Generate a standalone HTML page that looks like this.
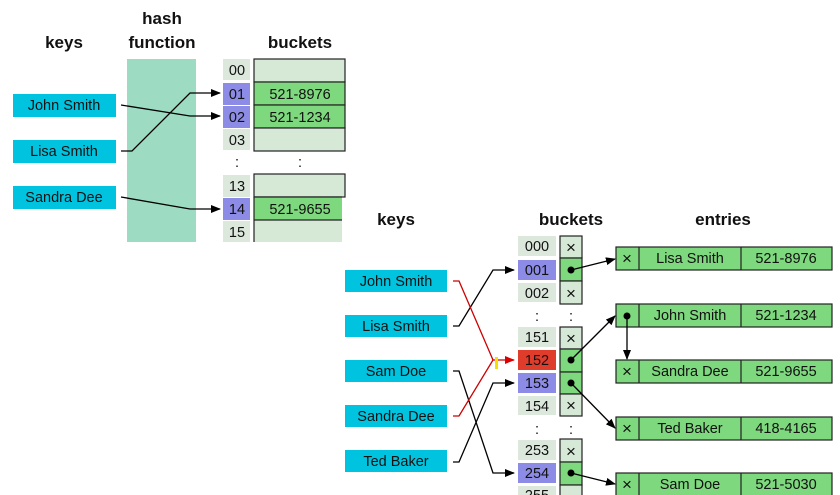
<!DOCTYPE html><html><head><meta charset="utf-8"><style>body{margin:0;background:#fff}svg{display:block}text{font-family:"Liberation Sans","DejaVu Sans",sans-serif}</style></head><body>
<svg width="840" height="495" viewBox="0 0 840 495" xmlns="http://www.w3.org/2000/svg">
<defs><marker id="a" markerWidth="10" markerHeight="8" refX="9" refY="4" orient="auto" markerUnits="userSpaceOnUse"><path d="M0,0L10,4L0,8z" fill="#000"/></marker>
<marker id="r" markerWidth="10" markerHeight="8" refX="9" refY="4" orient="auto" markerUnits="userSpaceOnUse"><path d="M0,0L10,4L0,8z" fill="#d00"/></marker></defs>
<g font-weight="bold" font-size="17" text-anchor="middle" fill="#111">
<text x="64" y="48">keys</text><text x="162" y="24">hash</text><text x="162" y="48">function</text><text x="300" y="48">buckets</text>
<text x="396" y="225">keys</text><text x="571" y="225">buckets</text><text x="723" y="225">entries</text></g>
<rect x="127" y="59" width="69" height="183" fill="#9ddcc2"/>
<g fill="#00c4df"><rect x="13" y="94" width="103" height="23"/><rect x="13" y="140" width="103" height="23"/><rect x="13" y="186" width="103" height="23"/>
<rect x="345" y="270" width="102" height="22"/><rect x="345" y="315" width="102" height="22"/><rect x="345" y="360" width="102" height="22"/><rect x="345" y="405" width="102" height="22"/><rect x="345" y="450" width="102" height="22"/></g>
<g font-size="14.5" text-anchor="middle" fill="#111">
<text x="64" y="110">John Smith</text><text x="64" y="156">Lisa Smith</text><text x="64" y="202">Sandra Dee</text>
<text x="396" y="286">John Smith</text><text x="396" y="331">Lisa Smith</text><text x="396" y="376">Sam Doe</text><text x="396" y="421">Sandra Dee</text><text x="396" y="466">Ted Baker</text></g>
<g fill="#dde8dd"><rect x="223" y="59" width="27" height="21"/><rect x="223" y="129" width="27" height="21"/><rect x="223" y="175" width="27" height="22"/><rect x="223" y="221" width="27" height="21"/></g>
<g fill="#8c8ce6"><rect x="223" y="83" width="27" height="22"/><rect x="223" y="106" width="27" height="22"/><rect x="223" y="198" width="27" height="22"/></g>
<g stroke="#222" stroke-width="1.2"><rect x="254" y="59" width="91" height="23" fill="#d6e9d6"/><rect x="254" y="82" width="91" height="23" fill="#7ed87e"/><rect x="254" y="105" width="91" height="23" fill="#7ed87e"/><rect x="254" y="128" width="91" height="23" fill="#d6e9d6"/>
<rect x="254" y="174" width="91" height="23" fill="#d6e9d6"/></g>
<rect x="254" y="197" width="88" height="23" fill="#7ed87e"/><rect x="254" y="220" width="88" height="22" fill="#d6e9d6"/>
<path d="M254,197H342M254,220H342M254,197V242" stroke="#222" stroke-width="1.2" fill="none"/>
<g font-size="14.5" text-anchor="middle" fill="#111">
<text x="237" y="75">00</text><text x="237" y="99">01</text><text x="237" y="122">02</text><text x="237" y="145">03</text><text x="237" y="167">:</text><text x="300" y="167">:</text>
<text x="237" y="191">13</text><text x="237" y="214">14</text><text x="237" y="237">15</text>
<text x="300" y="99">521-8976</text><text x="300" y="122">521-1234</text><text x="300" y="214">521-9655</text></g>
<g stroke="#000" stroke-width="1.3" fill="none">
<path d="M121,105L190,116L220,116" marker-end="url(#a)"/><path d="M121,151L132,151L190,93L220,93" marker-end="url(#a)"/><path d="M121,197L190,209L220,209" marker-end="url(#a)"/></g>
<g fill="#dde8dd"><rect x="518" y="236" width="38" height="20"/><rect x="518" y="283" width="38" height="19"/><rect x="518" y="327" width="38" height="20"/><rect x="518" y="396" width="38" height="19"/><rect x="518" y="440" width="38" height="20"/><rect x="518" y="486" width="38" height="9"/></g>
<g fill="#8c8ce6"><rect x="518" y="260" width="38" height="20"/><rect x="518" y="373" width="38" height="20"/><rect x="518" y="463" width="38" height="20"/></g>
<rect x="518" y="350" width="38" height="20" fill="#e03c2c"/>
<g stroke="#222" stroke-width="1.2">
<rect x="560" y="236" width="22" height="22" fill="#d6e9d6"/><rect x="560" y="258" width="22" height="23" fill="#7ed87e"/><rect x="560" y="281" width="22" height="23" fill="#d6e9d6"/>
<rect x="560" y="327" width="22" height="22" fill="#d6e9d6"/><rect x="560" y="349" width="22" height="23" fill="#7ed87e"/><rect x="560" y="372" width="22" height="22" fill="#7ed87e"/><rect x="560" y="394" width="22" height="22" fill="#d6e9d6"/>
<rect x="560" y="439" width="22" height="23" fill="#d6e9d6"/><rect x="560" y="462" width="22" height="23" fill="#7ed87e"/><rect x="560" y="485" width="22" height="12" fill="#d6e9d6"/>
<g fill="#7ed87e"><rect x="616" y="247" width="216" height="23"/><rect x="616" y="304" width="216" height="23"/><rect x="616" y="360" width="216" height="23"/><rect x="616" y="417" width="216" height="23"/><rect x="616" y="473" width="216" height="24"/></g>
<path d="M639,247V270M741,247V270M639,304V327M741,304V327M639,360V383M741,360V383M639,417V440M741,417V440M639,473V495M741,473V495" fill="none"/></g>
<g font-size="14.5" text-anchor="middle" fill="#111">
<text x="537" y="251">000</text><text x="537" y="275">001</text><text x="537" y="298">002</text><text x="537" y="321">:</text><text x="571" y="321">:</text>
<text x="537" y="342">151</text><text x="537" y="365">152</text><text x="537" y="388">153</text><text x="537" y="411">154</text><text x="537" y="434">:</text><text x="571" y="434">:</text>
<text x="537" y="455">253</text><text x="537" y="478">254</text><text x="537" y="500">255</text>
<text x="690" y="263">Lisa Smith</text><text x="786" y="263">521-8976</text>
<text x="690" y="320">John Smith</text><text x="786" y="320">521-1234</text>
<text x="690" y="376">Sandra Dee</text><text x="786" y="376">521-9655</text>
<text x="690" y="433">Ted Baker</text><text x="786" y="433">418-4165</text>
<text x="690" y="489">Sam Doe</text><text x="786" y="489">521-5030</text></g>
<g font-size="17" text-anchor="middle" fill="#111">
<text x="571" y="253">×</text><text x="571" y="299">×</text><text x="571" y="344">×</text><text x="571" y="411">×</text><text x="571" y="457">×</text>
<text x="627" y="264">×</text><text x="627" y="377">×</text><text x="627" y="434">×</text><text x="627" y="490">×</text></g>
<g fill="#000"><circle cx="571" cy="270" r="3.5"/><circle cx="571" cy="360" r="3.5"/><circle cx="571" cy="383" r="3.5"/><circle cx="571" cy="473" r="3.5"/><circle cx="627" cy="316" r="3.5"/></g>
<g stroke="#000" stroke-width="1.3" fill="none">
<path d="M453,326L459,326L493,270L514,270" marker-end="url(#a)"/>
<path d="M453,371L459,371L493,473L514,473" marker-end="url(#a)"/>
<path d="M453,462L459,462L493,383L514,383" marker-end="url(#a)"/>
<path d="M571,270L615,259" marker-end="url(#a)"/><path d="M571,360L615,316" marker-end="url(#a)"/><path d="M627,316V359" marker-end="url(#a)"/>
<path d="M571,383L615,428" marker-end="url(#a)"/><path d="M571,473L615,484" marker-end="url(#a)"/></g>
<g stroke="#c00" stroke-width="1.3" fill="none"><path d="M453,281L459,281L493,360L514,360" marker-end="url(#r)"/><path d="M453,416L459,416L493,360"/></g>
<rect x="495" y="357" width="3" height="12" fill="#f5e000"/>
</svg></body></html>
